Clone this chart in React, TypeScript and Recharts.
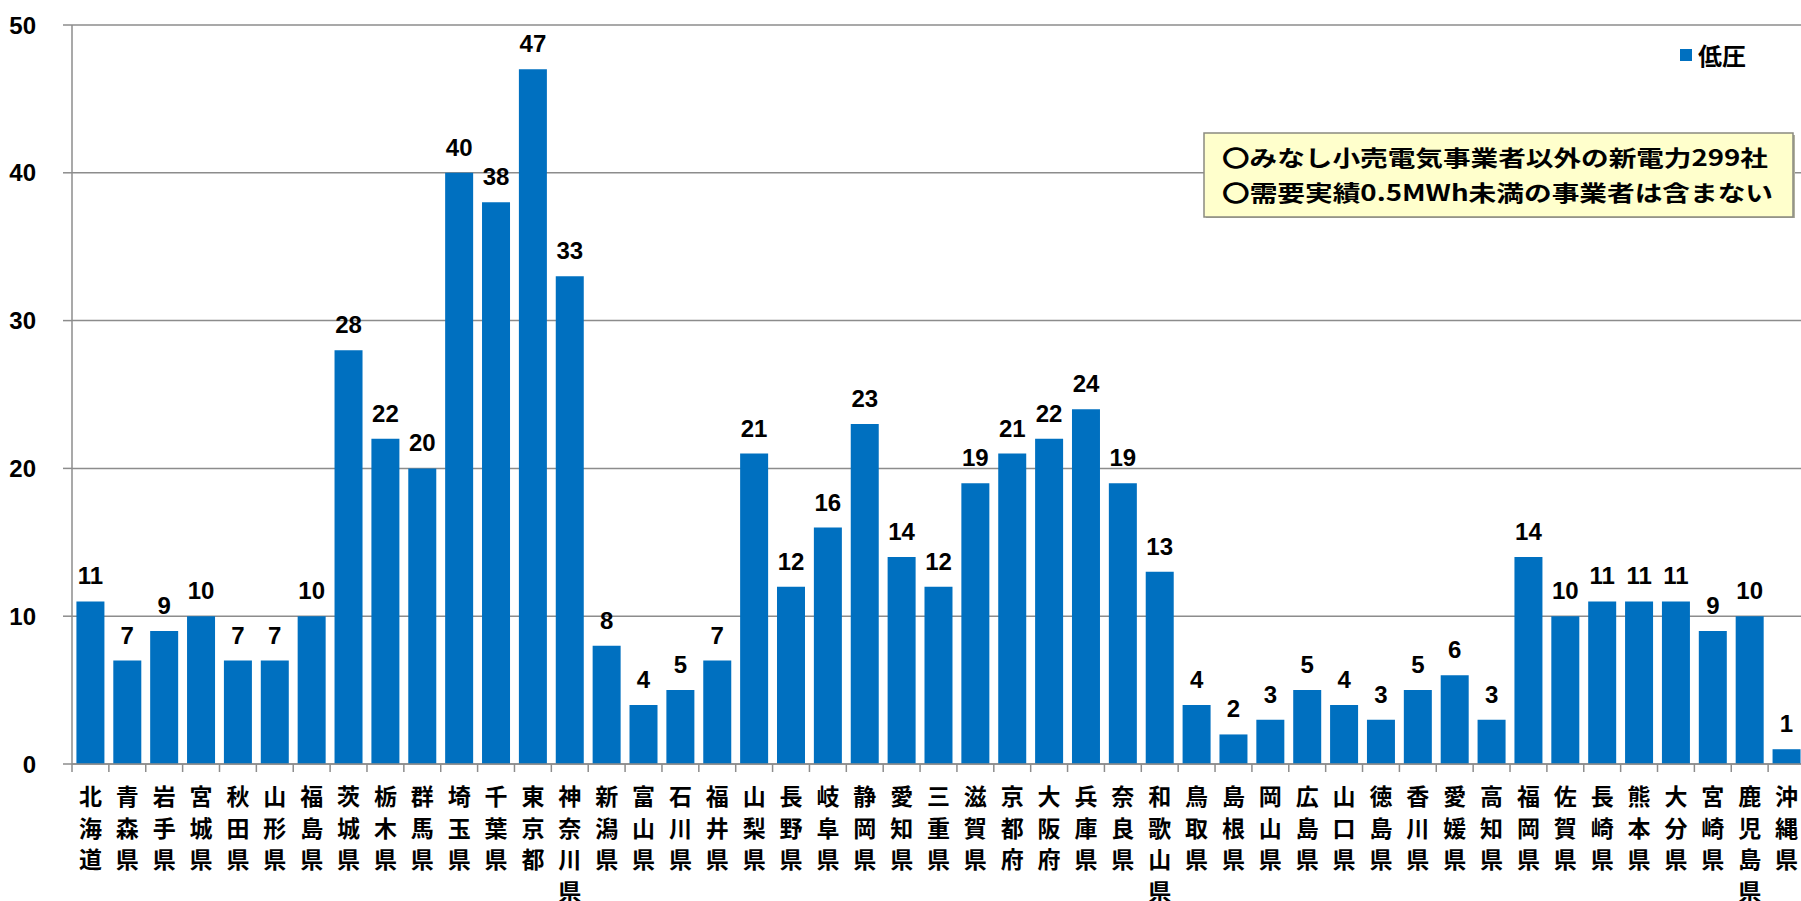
import { Bar, BarChart, CartesianGrid, LabelList, Legend, XAxis, YAxis } from "recharts";

const prefectures = [
  "北海道", "青森県", "岩手県", "宮城県", "秋田県", "山形県", "福島県", "茨城県",
  "栃木県", "群馬県", "埼玉県", "千葉県", "東京都", "神奈川県", "新潟県", "富山県",
  "石川県", "福井県", "山梨県", "長野県", "岐阜県", "静岡県", "愛知県", "三重県",
  "滋賀県", "京都府", "大阪府", "兵庫県", "奈良県", "和歌山県", "鳥取県", "島根県",
  "岡山県", "広島県", "山口県", "徳島県", "香川県", "愛媛県", "高知県", "福岡県",
  "佐賀県", "長崎県", "熊本県", "大分県", "宮崎県", "鹿児島県", "沖縄県",
];

const lowVoltage = [
  11, 7, 9, 10, 7, 7, 10, 28,
  22, 20, 40, 38, 47, 33, 8, 4,
  5, 7, 21, 12, 16, 23, 14, 12,
  19, 21, 22, 24, 19, 13, 4, 2,
  3, 5, 4, 3, 5, 6, 3, 14,
  10, 11, 11, 11, 9, 10, 1,
];

const yTicks = [0, 10, 20, 30, 40, 50];

const noteLines = [
  "〇みなし小売電気事業者以外の新電力299社",
  "〇需要実績0.5MWh未満の事業者は含まない",
];

const seriesName = "低圧";

const CHART_W = 1805;
const CHART_H = 901;
const Y_AXIS_W = 72;
const BAND = (CHART_W - Y_AXIS_W) / prefectures.length;

const BLUE = "#0070C0";
const GRAY = "#8c8c8c";
const NUM_FONT = "'Liberation Sans', Arial, sans-serif";
const JP_FONT = "'Noto Sans CJK JP', sans-serif";

const data = prefectures.map((name, i) => ({ name, value: lowVoltage[i] }));

function PrefTick(props: any) {
  const { x, y, payload, index } = props;
  const chars = String(payload.value).split("");
  return (
    <g>
      <line x1={x - BAND / 2} x2={x - BAND / 2} y1={y} y2={y + 8} stroke={GRAY} strokeWidth={1.5} />
      {index === prefectures.length - 1 && (
        <line x1={x + BAND / 2} x2={x + BAND / 2} y1={y} y2={y + 8} stroke={GRAY} strokeWidth={1.5} />
      )}
      {chars.map((c, i) => (
        <text
          key={i}
          x={x}
          y={y + 41 + i * 31.5}
          textAnchor="middle"
          fontFamily={JP_FONT}
          fontWeight="bold"
          fontSize={23}
          fill="#000"
        >
          {c}
        </text>
      ))}
    </g>
  );
}

function LegendBox() {
  return (
    <div style={{ display: "flex", alignItems: "center", fontFamily: JP_FONT }}>
      <span style={{ width: 12, height: 12, background: BLUE, marginRight: 6, display: "inline-block" }} />
      <span style={{ fontSize: 24, fontWeight: "bold", color: "#000", lineHeight: "30px" }}>{seriesName}</span>
    </div>
  );
}

export default function App() {
  return (
    <div
      style={{
        position: "absolute",
        left: 0,
        top: 0,
        width: 1801,
        height: 901,
        overflow: "hidden",
        background: "#fff",
      }}
    >
      <BarChart
        width={CHART_W}
        height={CHART_H}
        data={data}
        margin={{ top: 25, right: 0, bottom: 0, left: 0 }}
        barCategoryGap="12%"
      >
        <CartesianGrid vertical={false} stroke={GRAY} strokeWidth={1.5} />
        <XAxis
          dataKey="name"
          interval={0}
          height={137}
          tickSize={0}
          tickMargin={0}
          tickLine={false}
          axisLine={{ stroke: GRAY, strokeWidth: 1.5 }}
          tick={<PrefTick />}
        />
        <YAxis
          width={Y_AXIS_W}
          domain={[0, 50]}
          ticks={yTicks}
          interval={0}
          tickSize={9}
          tickMargin={27}
          axisLine={{ stroke: GRAY, strokeWidth: 1.5 }}
          tickLine={{ stroke: GRAY, strokeWidth: 1.5 }}
          tick={{ fill: "#000", fontSize: 24, fontWeight: "bold", fontFamily: NUM_FONT }}
        />
        <Legend
          layout="horizontal"
          verticalAlign="middle"
          align="center"
          wrapperStyle={{ left: 1680, top: 40, width: 120, height: 30 }}
          content={() => <LegendBox />}
        />
        <Bar dataKey="value" name={seriesName} fill={BLUE} isAnimationActive={false}>
          <LabelList
            dataKey="value"
            position="top"
            offset={17}
            fill="#000"
            fontSize={24}
            fontWeight="bold"
            fontFamily={NUM_FONT}
          />
        </Bar>
      </BarChart>
      <svg
        width={592}
        height={86}
        style={{ position: "absolute", left: 1203, top: 132 }}
      >
        <rect x={3} y={3} width={589} height={84} fill="#b0b0a0" />
        <rect x={1} y={1} width={589} height={84} fill="#FFFFCC" stroke="#8a8a80" strokeWidth={1.5} />
        {noteLines.map((line, i) => (
          <text
            key={i}
            x={19}
            y={34 + i * 35}
            fontFamily={JP_FONT}
            fontWeight="bold"
            fontSize={22}
            fill="#000"
            textLength={i === 0 ? 546 : 551}
            lengthAdjust="spacingAndGlyphs"
          >
            {line}
          </text>
        ))}
      </svg>
    </div>
  );
}
